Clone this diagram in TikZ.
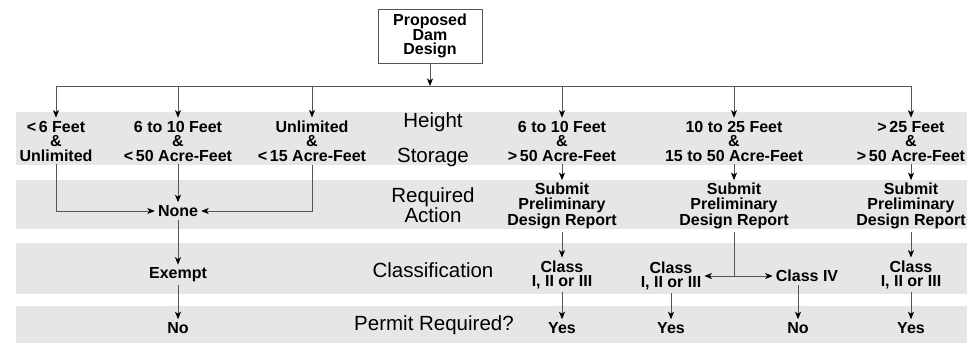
\documentclass[tikz,border=0pt]{standalone}
\usepackage{fontspec}
\setmainfont{Liberation Sans}
\usetikzlibrary{arrows.meta,positioning}
\definecolor{bandgrey}{RGB}{230,230,230}
\definecolor{linegrey}{RGB}{85,85,85}

\begin{document}
\begin{tikzpicture}[
  x=1pt, y=-1pt,
  every node/.style={font=\fontsize{16}{14.5}\selectfont\bfseries, align=center, inner sep=3pt},
  lbl/.style={font=\fontsize{20.5}{20}\selectfont},
  box/.style={draw=linegrey, line width=0.8pt, minimum width=104pt, minimum height=54pt},
  arr/.style={draw=linegrey, line width=0.8pt, -{Stealth[length=7.5pt,width=6pt,inset=2pt,black]}},
  ln/.style={draw=linegrey, line width=0.8pt}
]
  \useasboundingbox (0,0) rectangle (974,343);
  % grey bands
  \fill[bandgrey] (16,112) rectangle (967,165);
  \fill[bandgrey] (16,180) rectangle (967,229);
  \fill[bandgrey] (16,243) rectangle (967,294);
  \fill[bandgrey] (16,306) rectangle (967,343);

  \node[box] (design) at (430,36) {Proposed\\Dam\\Design};
  \coordinate (bus) at (430,86);

  % height and storage
  \node (lt6)   at (56,141)  {<\,6 Feet\\\&\\Unlimited};
  \node (to10s) at (178,141) {6 to 10 Feet\\\&\\<\,50 Acre-Feet};
  \node (unlim) at (312,141) {Unlimited\\\&\\<\,15 Acre-Feet};
  \node (to10l) at (562,141) {6 to 10 Feet\\\&\\>\,50 Acre-Feet};
  \node (to25)  at (734,141) {10 to 25 Feet\\\&\\15 to 50 Acre-Feet};
  \node (gt25)  at (911,141) {>\,25 Feet\\\&\\>\,50 Acre-Feet};

  % row labels
  \node[lbl] (height)  at (433,122) {Height};
  \node[lbl] (storage) at (433,157) {Storage};
  \node[lbl] (action)  at (433,205) {Required\\Action};
  \node[lbl] (class)   at (433,270) {Classification};
  \node[lbl] (permit)  at (434,325) {Permit Required?};

  % required action
  \node (none) at (178,211) {None};
  \node (sub4) at (562,206) {Submit\\Preliminary\\Design Report};
  \node (sub5) at (734,206) {Submit\\Preliminary\\Design Report};
  \node (sub6) at (911,206) {Submit\\Preliminary\\Design Report};

  % classification
  \node (exempt) at (178,275) {Exempt};
  \node (cls4)   at (562,275) {Class\\I, II or III};
  \node (cls5)   at (671,276) {Class\\I, II or III};
  \node (clsiv)  at (807,276) {Class IV};
  \node (cls6)   at (911,275) {Class\\I, II or III};

  % permit required
  \node (no1)  at (178,328) {No};
  \node (yes4) at (562,328) {Yes};
  \node (yes5) at (671,328) {Yes};
  \node (no5)  at (798,328) {No};
  \node (yes6) at (911,328) {Yes};

  \draw[arr] (design) -- (bus);
  \draw[ln] (lt6 |- bus) -- (gt25 |- bus);
  \foreach \n in {lt6,to10s,unlim,to10l,to25,gt25}
    \draw[arr] (\n |- bus) -- (\n);

  \draw[arr] (lt6) |- (none);
  \draw[arr] (unlim) |- (none);
  \draw[arr] (to10s) -- (none);
  \draw[arr] (none) -- (exempt);
  \draw[arr] (exempt) -- (no1);
  \foreach \a/\b in {to10l/sub4, to25/sub5, gt25/sub6, sub4/cls4, sub6/cls6,
                     cls4/yes4, cls5/yes5, cls6/yes6}
    \draw[arr] (\a) -- (\b);
  \draw[arr] (sub5) |- (cls5);
  \draw[arr] (sub5) |- (clsiv);
  \draw[arr] (clsiv.south -| no5) -- (no5);
\end{tikzpicture}
\end{document}
